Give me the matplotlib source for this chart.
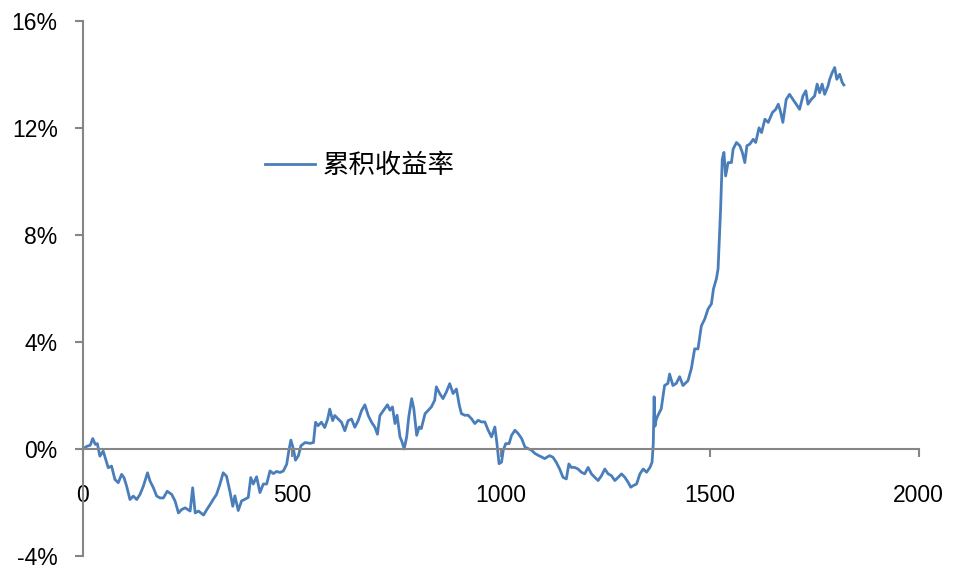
import numpy as np
import matplotlib
matplotlib.use("Agg")
import matplotlib.pyplot as plt
from matplotlib.ticker import FuncFormatter

plt.rcParams['font.family'] = ['Noto Sans CJK SC', 'DejaVu Sans']

# values: day index, cumulative return in %
days = [0, 10, 18, 24, 30, 35, 41, 49, 56, 61, 69, 77, 85, 93, 99, 105, 113, 121, 129, 137,
        145, 155, 161, 169, 177, 185, 193, 202, 213, 221, 229, 237, 245, 257, 263, 269, 277, 289, 297, 305,
        312, 320, 328, 336, 344, 352, 359, 364, 372, 380, 388, 396, 402, 408, 416, 424, 432, 440, 448, 456,
        464, 472, 480, 488, 493, 498, 504, 509, 516, 522, 532, 544, 552, 557, 563, 571, 579, 586, 591, 598,
        603, 611, 619, 627, 635, 643, 651, 659, 667, 675, 683, 691, 699, 705, 711, 719, 729, 735, 741, 747,
        752, 759, 764, 769, 775, 780, 787, 792, 799, 805, 810, 819, 827, 834, 842, 846, 854, 862, 870, 878,
        886, 894, 901, 906, 914, 922, 930, 938, 946, 954, 962, 970, 978, 986, 991, 996, 1002, 1006, 1012, 1020,
        1026, 1034, 1042, 1050, 1058, 1066, 1074, 1082, 1090, 1098, 1105, 1117, 1125, 1133, 1141, 1149, 1157, 1163, 1169, 1177,
        1185, 1193, 1201, 1209, 1217, 1225, 1233, 1241, 1249, 1257, 1265, 1273, 1281, 1289, 1297, 1305, 1311, 1317, 1325, 1333,
        1341, 1349, 1357, 1362, 1365, 1367, 1369, 1372, 1376, 1384, 1392, 1400, 1404, 1412, 1420, 1428, 1436, 1448, 1456, 1464,
        1472, 1480, 1488, 1496, 1504, 1509, 1516, 1520, 1522, 1526, 1530, 1534, 1538, 1544, 1552, 1556, 1564, 1572, 1578, 1584,
        1589, 1596, 1604, 1610, 1618, 1624, 1632, 1640, 1650, 1658, 1664, 1669, 1675, 1683, 1691, 1699, 1707, 1715, 1723, 1730,
        1735, 1743, 1751, 1757, 1763, 1769, 1775, 1783, 1787, 1793, 1799, 1804, 1811, 1817, 1821]
ret = [0.0, 0.1, 0.14, 0.39, 0.17, 0.2, -0.27, -0.08, -0.45, -0.7, -0.64, -1.14, -1.26, -0.95, -1.08, -1.39, -1.89, -1.76, -1.89, -1.7,
       -1.39, -0.89, -1.2, -1.45, -1.76, -1.83, -1.83, -1.58, -1.7, -1.95, -2.39, -2.26, -2.2, -2.32, -1.45, -2.39, -2.32, -2.47, -2.26, -2.07,
       -1.89, -1.7, -1.33, -0.89, -1.02, -1.58, -2.14, -1.75, -2.3, -1.94, -1.88, -1.81, -1.07, -1.31, -1.04, -1.63, -1.31, -1.31, -0.82, -0.92,
       -0.84, -0.88, -0.82, -0.57, -0.07, 0.33, 0.0, -0.42, -0.25, 0.12, 0.24, 0.21, 0.24, 1.0, 0.87, 1.0, 0.8, 1.12, 1.49, 1.06,
       1.25, 1.12, 1.0, 0.68, 1.06, 1.12, 0.81, 1.06, 1.43, 1.65, 1.25, 1.0, 0.81, 0.55, 1.25, 1.43, 1.65, 1.45, 1.57, 0.95,
       1.26, 0.45, 0.26, 0.0, 0.45, 1.2, 1.88, 1.51, 0.51, 0.82, 0.76, 1.32, 1.45, 1.57, 1.82, 2.32, 2.07, 1.88, 2.13, 2.44,
       2.07, 2.24, 1.63, 1.32, 1.26, 1.26, 1.13, 0.95, 1.07, 1.01, 1.01, 0.7, 0.45, 0.82, 0.2, -0.55, -0.49, -0.05, 0.2, 0.2,
       0.51, 0.7, 0.57, 0.39, 0.07, 0.01, -0.05, -0.17, -0.24, -0.3, -0.36, -0.25, -0.31, -0.5, -0.75, -1.06, -1.12, -0.56, -0.69, -0.69,
       -0.75, -0.87, -0.93, -0.69, -0.93, -1.06, -1.18, -1.0, -0.75, -0.93, -1.0, -1.18, -1.06, -0.93, -1.06, -1.25, -1.43, -1.37, -1.31, -0.93,
       -0.75, -0.87, -0.69, -0.5, 0.2, 1.95, 0.85, 1.1, 1.25, 1.5, 2.37, 2.45, 2.8, 2.37, 2.45, 2.7, 2.37, 2.55, 3.0, 3.74,
       3.74, 4.6, 4.85, 5.23, 5.42, 5.98, 6.36, 6.73, 7.46, 8.95, 10.82, 11.08, 10.2, 10.7, 10.7, 11.2, 11.45, 11.33, 11.08, 10.7,
       11.33, 11.39, 11.57, 11.45, 12.0, 11.82, 12.32, 12.2, 12.57, 12.69, 12.88, 12.63, 12.2, 13.06, 13.25, 13.06, 12.88, 12.69, 13.19, 13.38,
       12.88, 13.06, 13.19, 13.63, 13.31, 13.63, 13.25, 13.56, 13.81, 14.06, 14.25, 13.81, 14.0, 13.69, 13.6]

x_ticks = [0, 500, 1000, 1500, 2000]
y_ticks = [-4, 0, 4, 8, 12, 16]
label = "累积收益率"

fig = plt.figure(figsize=(9.62, 5.69), dpi=100)
ax = fig.add_axes([0.086, 0.0228, 0.869, 0.9408])

ax.plot(days, ret, color="#4A7EBB", linewidth=2, label=label)

ax.set_xlim(0, 2000)
ax.set_ylim(-4, 16)
ax.set_xticks(x_ticks)
ax.set_yticks(y_ticks)
ax.yaxis.set_major_formatter(FuncFormatter(lambda v, p: "%d%%" % v))

gray = "#868686"
ax.spines["top"].set_visible(False)
ax.spines["right"].set_visible(False)
ax.spines["bottom"].set_position(("data", 0))
ax.spines["bottom"].set_color(gray)
ax.spines["left"].set_color(gray)
ax.spines["bottom"].set_linewidth(1.5)
ax.spines["left"].set_linewidth(1.5)

ax.tick_params(axis="both", direction="out", length=6, width=1.5, color=gray,
               labelsize=16.5, labelcolor="black")
ax.tick_params(axis="x", pad=19)
ax.tick_params(axis="y", pad=12)
for t in ax.get_xticklabels() + ax.get_yticklabels():
    t.set_family(["Liberation Sans", "DejaVu Sans"])

ax.legend(loc="center left", bbox_to_anchor=(0.218, 0.73), frameon=False,
          fontsize=19, handlelength=1.9, handletextpad=0.27, borderpad=0, borderaxespad=0)

fig.savefig("out.png", dpi=100)
